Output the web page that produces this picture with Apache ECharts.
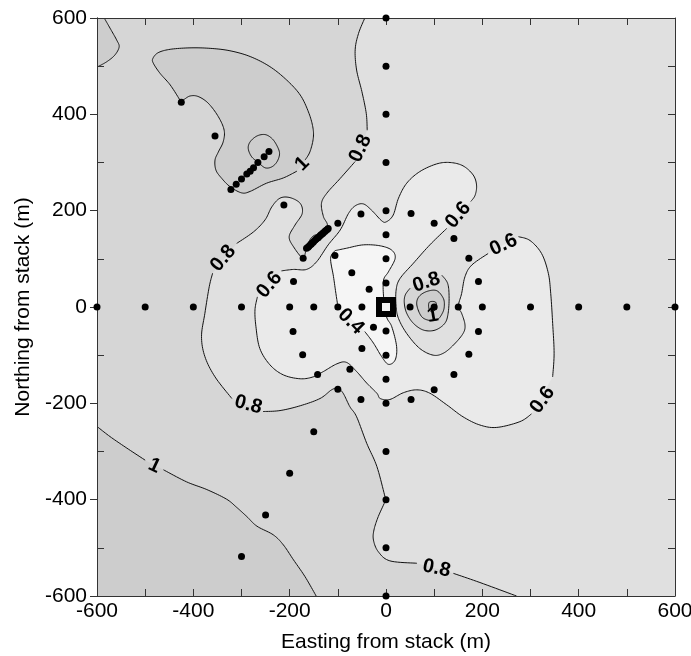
<!DOCTYPE html>
<html>
<head>
<meta charset="utf-8">
<style>html,body{margin:0;padding:0;background:#fff}#c{width:691px;height:656px}</style>
<script src="https://cdn.jsdelivr.net/npm/echarts@6/dist/echarts.min.js"></script>
</head>
<body>
<div id="c"></div>
<script>
var tickLabels = [-600,-400,-200,0,200,400,600];
var minorTicks = [-500,-300,-100,100,300,500];

// sampling points (m east, m north)
var samplesAxes = [[0,600],[0,500],[0,400],[0,300],[0,200],[0,150],[0,100],[0,50],[0,-50],[0,-100],[0,-150],[0,-200],[0,-300],[0,-400],[0,-500],[0,-600],
 [-600,0],[-500,0],[-400,0],[-300,0],[-200,0],[-150,0],[-100,0],[-50,0],[50,0],[100,0],[150,0],[200,0],[300,0],[400,0],[500,0],[600,0]];
var samplesNW = [[-425,425],[-355,355],[-322,244],[-311,255],[-300,266],[-289,276],[-282,282],[-275,289],[-266,300],[-253,312],[-243,323],
 [-212,212],[-172,101],[-100,174],[-52,193],[-106,107],[-71,71],[-35,37],[-192,53]];
var samplesString = [[-165,122],[-162,124],[-160,126],[-157,129],[-155,131],[-152,134],[-150,136],[-147,139],[-145,141],[-142,143],[-140,145],[-137,148],[-135,150],[-132,152],[-130,154],[-127,157],[-125,159],[-122,161],[-120,163]];
var samplesE = [[52,194],[100,174],[141,142],[172,101],[192,53],[192,-51],[172,-98],[141,-140],[100,-172],[52,-192]];
var samplesSW = [[-26,-42],[-50,-86],[-75,-129],[-100,-171],[-52,-192],[-142,-140],[-173,-99],[-193,-51],[-150,-259],[-200,-345],[-250,-432],[-300,-518]];
var stack = [[0,0]];

// contours; each part is a stretch of line between label gaps
var c1Corner = [[[-585,600],[-573,579],[-559,554],[-554,540],[-563,523],[-580,509],[-600,498]]];
var c1Lobe = [[[-428,430],[-448,461],[-469,485],[-483,506],[-484,516],[-473,528],[-448,535],[-407,538],[-365,537],[-324,532],[-282,520],[-241,499],[-206,471],[-178,440],[-161,405],[-152,374],[-151,350],[-158,322],[-168,305]],
 [[-185,282],[-213,268],[-248,257],[-282,240],[-300,237],[-324,250],[-341,267],[-353,284],[-355,305],[-348,322],[-338,343],[-336,367],[-348,395],[-369,423],[-390,437],[-407,438],[-421,430],[-428,430]]];
var c12Lobe = [[[-286,329],[-282,343],[-268,355],[-251,358],[-237,350],[-227,336],[-221,319],[-226,302],[-237,291],[-251,289],[-265,300],[-279,312],[-286,329]]];
var c1Tiny = [[[-161,132],[-154,145],[-144,150],[-134,146],[-144,132],[-158,122],[-161,132]]];
var c1SW = [[[-600,-248],[-573,-269],[-538,-293],[-500,-318]],
 [[-462,-338],[-414,-363],[-372,-379],[-331,-399],[-310,-416],[-289,-435],[-268,-455],[-234,-473],[-213,-494],[-192,-525],[-168,-560],[-145,-600]]];
var c08Main = [[[-44,600],[-57,568],[-64,534],[-61,492],[-50,447],[-41,402],[-39,367]],
 [[-64,302],[-95,267],[-123,236],[-134,215],[-130,188],[-122,167],[-144,139],[-165,118],[-172,101],[-192,125],[-201,146],[-189,170],[-174,194],[-178,215],[-199,227],[-220,226],[-237,208],[-251,181],[-275,156],[-310,132]],
 [[-360,70],[-367,42],[-376,-13],[-383,-61],[-376,-103],[-355,-145],[-320,-190]],
 [[-255,-217],[-220,-215],[-178,-205],[-137,-190],[-113,-172],[-100,-169],[-89,-179],[-75,-207],[-61,-228],[-40,-283],[-19,-331],[-2,-394],[0,-399],[-16,-435],[-25,-463],[-26,-484],[-16,-508],[8,-527],[64,-532]],
 [[140,-553],[195,-572],[271,-600]]];
var c06Main = [[[-217,75],[-192,78],[-165,78],[-144,94],[-120,129],[-95,160],[-78,194],[-64,210],[-47,214],[-30,201],[-9,179],[1,177],[15,191],[26,226],[43,257],[70,281],[105,297],[133,300],[160,293],[181,274],[188,253],[185,232],[176,219]],
 [[126,163],[91,129],[57,91],[29,59],[21,35],[21,1],[26,-24],[43,-55],[70,-86],[98,-100],[119,-96],[140,-79],[160,-55],[164,-37],[157,-13],[150,1],[157,28],[164,63],[178,87],[212,111]],
 [[275,146],[299,138],[323,111],[337,70],[342,28],[346,-34],[349,-96],[346,-145]],
 [[302,-222],[278,-238],[230,-250],[195,-245],[160,-228],[126,-203],[91,-179],[64,-172],[36,-178],[8,-192],[-12,-190],[-19,-179],[-40,-158],[-61,-134],[-82,-115],[-102,-118],[-130,-134],[-151,-145],[-178,-149],[-213,-141],[-241,-120],[-262,-86],[-270,-41],[-272,-6],[-267,21]]];
var c04Main = [[[-106,117],[-115,101],[-109,63],[-104,28],[-100,2]],
 [[-44,-51],[-26,-75],[-9,-103],[5,-119],[19,-110],[22,-82],[12,-41],[1,-20],[-5,21],[-5,56],[5,73],[19,101],[12,118],[-12,127],[-47,129],[-82,122],[-106,117]]];
var c08Ring = [[[116,66],[128,49],[131,21],[129,-13],[122,-34],[102,-48],[78,-48],[57,-34],[43,-13],[38,8],[40,25],[50,39]]];
var c1Ring = [[[64,4],[68,21],[84,32],[105,34],[119,18],[121,1],[117,-13],[107,-26],[91,-28],[74,-20],[64,4]]];
var c12Ring = [[[90,10],[103,10],[104,-3],[95,-10],[89,-3],[90,10]]];

var contourLabels = [
 ['0.8',-53,329,65],['1',-174,297,45],['0.8',-338,101,50],['0.6',-242,46,50],['0.6',150,191,50],['0.6',244,129,25],
 ['0.8',84,51,18],['1',97,-18,10],['0.6',325,-193,55],['0.4',-73,-30,-45],['0.8',-286,-203,-15],['0.8',105,-543,-12],['1',-481,-330,-25]
];

var shades = {over12:'#c4c4c4', over1:'#cdcdcd', over08:'#d6d6d6', over06:'#e0e0e0', over04:'#eaeaea', under04:'#f5f5f5'};

var layers = [
 {parts:c1SW, extra:[[-600,-600]], fill:shades.over1},
 {parts:c1Corner, extra:[[-600,600]], fill:shades.over1},
 {parts:c1Lobe, fill:shades.over1},
 {parts:c12Lobe, fill:shades.over1},
 {parts:c1Tiny, fill:shades.over1},
 {parts:c08Main, extra:[[600,-600],[600,600]], fill:shades.over06},
 {parts:c06Main, fill:shades.over04},
 {parts:c04Main, fill:shades.under04},
 {parts:c08Ring, fill:shades.over08},
 {parts:c1Ring, fill:shades.over1},
 {parts:c12Ring, fill:shades.over12}
];

function spline(p){
  var out=[], n=p.length, closed = n>3 && p[0][0]===p[n-1][0] && p[0][1]===p[n-1][1];
  function at(i){
    if(closed){ return p[((i%(n-1))+(n-1))%(n-1)]; }
    return p[Math.max(0,Math.min(n-1,i))];
  }
  for(var i=0;i<n-1;i++){
    var a=at(i-1),b=at(i),c=at(i+1),d=at(i+2);
    for(var k=0;k<10;k++){
      var t=k/10,t2=t*t,t3=t2*t;
      out.push([
        0.5*(2*b[0]+(c[0]-a[0])*t+(2*a[0]-5*b[0]+4*c[0]-d[0])*t2+(3*b[0]-a[0]-3*c[0]+d[0])*t3),
        0.5*(2*b[1]+(c[1]-a[1])*t+(2*a[1]-5*b[1]+4*c[1]-d[1])*t2+(3*b[1]-a[1]-3*c[1]+d[1])*t3)
      ]);
    }
  }
  out.push(p[n-1]);
  return out;
}

function renderFill(params, api){
  var L=layers[params.dataIndex], pts=[];
  L.parts.forEach(function(s){ spline(s.map(function(q){return api.coord(q);})).forEach(function(q){pts.push(q);}); });
  (L.extra||[]).forEach(function(q){ pts.push(api.coord(q)); });
  var kids=[{type:'polygon',shape:{points:pts},style:{fill:L.fill,stroke:null}}];
  L.parts.forEach(function(s){
    kids.push({type:'polyline',shape:{points:spline(s.map(function(q){return api.coord(q);}))},style:{fill:null,stroke:'#111',lineWidth:1}});
  });
  return {type:'group',children:kids};
}

function renderLabel(params, api){
  var L=contourLabels[params.dataIndex], p=api.coord([L[1],L[2]]);
  return {type:'text',x:p[0],y:p[1],rotation:L[3]*Math.PI/180,
    style:{text:L[0],fill:'#000',font:'bold 20px "Liberation Sans", Arial, sans-serif',textAlign:'center',textVerticalAlign:'middle'}};
}

var frame = {
  type:'value', min:-600, max:600, z:2,
  splitLine:{show:false},
  axisLine:{show:true,onZero:false,lineStyle:{color:'#333',width:1}}
};
var innerTicks = {show:true,inside:true,length:7,lineStyle:{color:'#333',width:1}};
var labelStyle = {color:'#000',fontFamily:'Liberation Sans',fontSize:21};
function tickText(v){ return tickLabels.indexOf(v)>=0?String(v):''; }

var chart = echarts.init(document.getElementById('c'),null,{renderer:'canvas'});
chart.setOption({
  animation:false,
  backgroundColor:'#fff',
  grid:{left:97,right:16,top:18,bottom:60,show:true,backgroundColor:shades.over08,borderWidth:0,outerBoundsMode:'none'},
  xAxis:[
    Object.assign({},frame,{position:'bottom',interval:100,axisTick:innerTicks,
      axisLabel:{show:true,color:labelStyle.color,fontFamily:labelStyle.fontFamily,fontSize:21,margin:5,hideOverlap:false,showMinLabel:true,showMaxLabel:true,formatter:tickText},
      name:'Easting from stack (m)',nameLocation:'middle',nameGap:36,nameTextStyle:labelStyle}),
    Object.assign({},frame,{position:'top',interval:100,axisTick:innerTicks,axisLabel:{show:false}})
  ],
  yAxis:[
    Object.assign({},frame,{position:'left',interval:200,axisTick:{show:true,inside:false,length:7,lineStyle:{color:'#333',width:1}},
      axisLabel:{show:true,color:labelStyle.color,fontFamily:labelStyle.fontFamily,fontSize:21,margin:10,hideOverlap:false,showMinLabel:true,showMaxLabel:true,formatter:tickText},
      name:'Northing from stack (m)',nameLocation:'middle',nameGap:62,nameTextStyle:labelStyle}),
    Object.assign({},frame,{position:'right',interval:100,axisTick:innerTicks,axisLabel:{show:false}}),
    Object.assign({},frame,{position:'left',interval:100,axisTick:Object.assign({},innerTicks,{customValues:minorTicks}),axisLabel:{show:false}})
  ],
  series:[
    {type:'custom',name:'contours',clip:true,renderItem:renderFill,data:layers.map(function(_,i){return i;}),silent:true,z:1},
    {type:'scatter',name:'samples',data:[].concat(samplesAxes,samplesNW,samplesString,samplesE,samplesSW),symbol:'circle',symbolSize:7,clip:false,itemStyle:{color:'#000',opacity:1},silent:true,z:3},
    {type:'scatter',name:'stack',data:stack,symbol:'rect',symbolSize:14,clip:false,itemStyle:{color:'#f0f0f0',borderColor:'#000',borderWidth:6,opacity:1},silent:true,z:4},
    {type:'custom',name:'labels',clip:false,renderItem:renderLabel,data:contourLabels.map(function(_,i){return i;}),silent:true,z:5}
  ]
});
</script>
</body>
</html>
